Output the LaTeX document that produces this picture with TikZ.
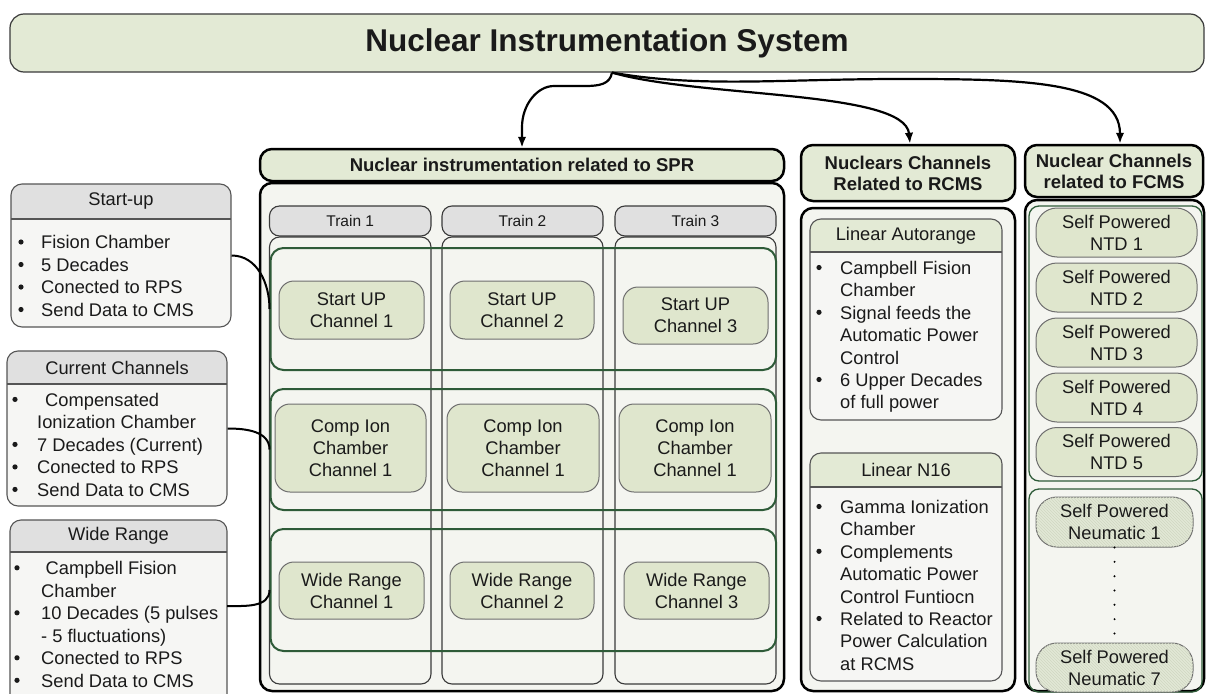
\documentclass[tikz,border=0pt]{standalone}
\usepackage{fontspec}
\setmainfont{Liberation Sans}
\usetikzlibrary{arrows.meta,patterns}
\definecolor{hgreen}{HTML}{E3EAD5}
\definecolor{chanfill}{HTML}{DFE6CD}
\definecolor{neufill}{HTML}{E2E8D6}
\definecolor{bodyc}{HTML}{F4F5F0}
\definecolor{grayh}{HTML}{E0E0E0}
\definecolor{lbody}{HTML}{F6F6F4}
\definecolor{rowgreen}{HTML}{2E5B38}
\definecolor{tframe}{HTML}{3A3A3A}
\definecolor{cframe}{HTML}{6E6E6E}
\definecolor{lframe}{HTML}{555555}
\definecolor{hatch}{HTML}{D0D7C2}
\definecolor{txt}{HTML}{1A1A1A}
\newcommand{\ct}[2][23pt]{\hspace*{#1}#2\strut}
\begin{document}
\begin{tikzpicture}[x=1pt,y=-1pt,
  every node/.style={text=txt},
  hdr/.style={draw=black, line width=2.5pt, fill=hgreen, rounded corners=12pt, inner sep=0pt, align=center, font=\bfseries\fontsize{18.5}{21}\selectfont},
  colbody/.style={draw=black, line width=2.5pt, fill=bodyc, rounded corners=12pt, inner sep=0pt},
  train/.style={draw=tframe, line width=1.1pt, fill=grayh, rounded corners=10pt, inner sep=0pt, font=\fontsize{15.5}{18}\selectfont},
  traincol/.style={draw=tframe, line width=1.1pt, rounded corners=10pt, inner sep=0pt},
  rowbox/.style={draw=rowgreen, line width=2pt, rounded corners=13pt, inner sep=0pt},
  grp/.style={draw=rowgreen, line width=1.3pt, rounded corners=10pt, inner sep=0pt},
  chan/.style={draw=cframe, line width=1pt, fill=chanfill, rounded corners=15pt, align=center, inner sep=0pt, font=\fontsize{18.3}{22}\selectfont},
  pill/.style={chan, rounded corners=21pt},
  neu/.style={pill, fill=neufill, postaction={pattern=north west lines, pattern color=hatch}},
  hbox/.style 2 args={draw=lframe, line width=1.1pt, fill=lbody, rounded corners=11pt, inner sep=0pt,
     path picture={\fill[#1, sharp corners] (path picture bounding box.north west) rectangle ([yshift=#2]path picture bounding box.north east);
       \draw[lframe, line width=1.1pt, sharp corners] ([yshift=#2]path picture bounding box.north west) -- ([yshift=#2]path picture bounding box.north east);}},
  lbl/.style={inner sep=0pt, font=\fontsize{18.3}{22}\selectfont},
  lst/.style={anchor=west, align=left, inner sep=0pt, font=\fontsize{18.3}{22.5}\selectfont},
  lst2/.style={anchor=west, align=left, inner sep=0pt, font=\fontsize{18.3}{22.4}\selectfont},
  bul/.style={fill=txt},
  conn/.style={draw=black, line width=2pt},
  arr/.style={draw=black, line width=2.2pt, -{Latex[length=11pt,width=8.5pt]}}
]
\clip (0,0) rectangle (1206,693);

% title
\node[draw=tframe, line width=1.2pt, fill=hgreen, rounded corners=14pt, inner sep=0pt,
      minimum width=1194pt, minimum height=58pt, font=\bfseries\fontsize{31.5}{36}\selectfont]
      (top) at (607,43) {Nuclear Instrumentation System};

% SPR column
\node[hdr, minimum width=524pt, minimum height=32pt] (spr-h) at (522,165) {Nuclear instrumentation related to SPR};
\node[colbody, minimum width=524pt, minimum height=508pt] (spr-b) at (522,437) {};

\node[train, minimum width=161.5pt, minimum height=30pt] (t1) at (350.25,221) {Train 1};
\node[train, minimum width=161pt, minimum height=30pt] (t2) at (522.5,221) {Train 2};
\node[train, minimum width=161pt, minimum height=30pt] (t3) at (695.5,221) {Train 3};
\node[traincol, minimum width=161.5pt, minimum height=447pt] (c1) at (350.25,460.5) {};
\node[traincol, minimum width=161pt, minimum height=447pt] (c2) at (522.5,460.5) {};
\node[traincol, minimum width=161pt, minimum height=447pt] (c3) at (695.5,460.5) {};

\node[rowbox, minimum width=505.5pt, minimum height=122pt] (row1) at (523.25,309) {};
\node[rowbox, minimum width=505.5pt, minimum height=121pt] (row2) at (523.25,449.5) {};
\node[rowbox, minimum width=505.5pt, minimum height=122pt] (row3) at (523.25,590) {};

\node[chan, minimum width=145pt, minimum height=58pt] (su1) at (351.5,310) {Start UP\\Channel 1};
\node[chan, minimum width=144pt, minimum height=58pt] (su2) at (522,310) {Start UP\\Channel 2};
\node[chan, minimum width=145pt, minimum height=57pt] (su3) at (695.5,315.5) {Start UP\\Channel 3};
\node[chan, minimum width=151pt, minimum height=88pt] (ci1) at (350.5,448) {Comp Ion\\Chamber\\Channel 1};
\node[chan, minimum width=152pt, minimum height=88pt] (ci2) at (523,448) {Comp Ion\\Chamber\\Channel 1};
\node[chan, minimum width=152pt, minimum height=88pt] (ci3) at (695,448) {Comp Ion\\Chamber\\Channel 1};
\node[chan, minimum width=145pt, minimum height=57pt] (wr1) at (351.5,590.5) {Wide Range\\Channel 1};
\node[chan, minimum width=144pt, minimum height=57pt] (wr2) at (522,590.5) {Wide Range\\Channel 2};
\node[chan, minimum width=145pt, minimum height=57pt] (wr3) at (696.5,590.5) {Wide Range\\Channel 3};

% left boxes
\node[hbox={grayh}{-35pt}, minimum width=220pt, minimum height=143pt] (su) at (121,255.5) {};
\node[lbl] (su-h) at (121,201.5) {Start-up};
\node[lst] (su-l) at (18,278) {\ct{Fision Chamber}\\\ct{5 Decades}\\\ct{Conected to RPS}\\\ct{Send Data to CMS}};
\foreach \y in {242,264.5,287,309.5} \fill[bul] (21,\y) circle (2.6);

\node[hbox={grayh}{-33pt}, minimum width=220pt, minimum height=155pt] (cc) at (117,428.5) {};
\node[lbl] (cc-h) at (117,367.5) {Current Channels};
\node[lst] (cc-l) at (12,446.9) {\ct[25pt]{\hspace*{8pt}Compensated}\\\ct[25pt]{Ionization Chamber}\\\ct[25pt]{7 Decades (Current)}\\\ct[25pt]{Conected to RPS}\\\ct[25pt]{Send Data to CMS}};
\foreach \y in {399.4,444.4,466.9,489.4} \fill[bul] (15,\y) circle (2.6);

\node[hbox={grayh}{-32pt}, minimum width=217pt, minimum height=200pt] (wr) at (118.5,620) {};
\node[lbl] (wr-h) at (118.5,536) {Wide Range};
\node[lst] (wr-l) at (14,626.5) {\ct[27pt]{\hspace*{4.5pt}Campbell Fision}\\\ct[27pt]{Chamber}\\\ct[27pt]{10 Decades (5 pulses}\\\ct[27pt]{- 5 fluctuations)}\\\ct[27pt]{Conected to RPS}\\\ct[27pt]{Send Data to CMS}};
\foreach \y in {567.8,612.8,657.8,680.3} \fill[bul] (17,\y) circle (2.6);
\coordinate (wrc) at (227,606);

\draw[conn] (su.east) to[out=0,in=90] (row1.west);
\draw[conn] (cc.east) to[out=0,in=90] (row2.west);
\draw[conn] (wrc) to[out=0,in=-90] (row3.west);

% RCMS column
\node[hdr, minimum width=214pt, minimum height=56pt] (rc-h) at (908,173) {Nuclears Channels\\Related to RCMS};
\node[colbody, minimum width=214pt, minimum height=483pt] (rc-b) at (908,449.5) {};
\node[hbox={hgreen}{-33pt}, minimum width=192pt, minimum height=201pt] (la) at (906,319.5) {};
\node[lbl] (la-h) at (906,235.5) {Linear Autorange};
\node[lst2] (la-l) at (816,337.2) {\ct[24pt]{Campbell Fision}\\\ct[24pt]{Chamber}\\\ct[24pt]{Signal feeds the}\\\ct[24pt]{Automatic Power}\\\ct[24pt]{Control}\\\ct[24pt]{6 Upper Decades}\\\ct[24pt]{of full power}};
\foreach \y in {267.5,312.3,379.5} \fill[bul] (819,\y) circle (2.6);
\node[hbox={hgreen}{-34pt}, minimum width=192pt, minimum height=228pt] (n16) at (906,567) {};
\node[lbl] (n16-h) at (906,470) {Linear N16};
\node[lst2] (n16-l) at (816,587.4) {\ct[24pt]{Gamma Ionization}\\\ct[24pt]{Chamber}\\\ct[24pt]{Complements}\\\ct[24pt]{Automatic Power}\\\ct[24pt]{Control Funtiocn}\\\ct[24pt]{Related to Reactor}\\\ct[24pt]{Power Calculation}\\\ct[24pt]{at RCMS}};
\foreach \y in {506.5,551.3,618.5} \fill[bul] (819,\y) circle (2.6);

% FCMS column
\node[hdr, minimum width=178pt, minimum height=52pt] (fc-h) at (1114,171) {Nuclear Channels\\related to FCMS};
\node[colbody, minimum width=179pt, minimum height=491pt] (fc-b) at (1114.5,445.5) {};
\node[grp, minimum width=173pt, minimum height=275pt] (g1) at (1115.5,343.5) {};
\node[grp, minimum width=173pt, minimum height=203pt] (g2) at (1115.5,590.5) {};
\node[pill, minimum width=161pt, minimum height=49pt] (ntd1) at (1116.5,232.5) {Self Powered\\NTD 1};
\node[pill, minimum width=161pt, minimum height=49pt] (ntd2) at (1116.5,287.5) {Self Powered\\NTD 2};
\node[pill, minimum width=161pt, minimum height=49pt] (ntd3) at (1116.5,342.5) {Self Powered\\NTD 3};
\node[pill, minimum width=161pt, minimum height=49pt] (ntd4) at (1116.5,397.5) {Self Powered\\NTD 4};
\node[pill, minimum width=161pt, minimum height=49pt] (ntd5) at (1116.5,452) {Self Powered\\NTD 5};
\node[neu, minimum width=157pt, minimum height=50pt] (nm1) at (1114.5,522) {Self Powered\\Neumatic 1};
\node[neu, minimum width=157pt, minimum height=49pt] (nm7) at (1114.5,667.5) {Self Powered\\Neumatic 7};
\draw[line width=2.2pt, line cap=round, dash pattern=on 0pt off 14.33pt] (nm1.south) -- (nm7.north);

% arrows from title
\draw[arr] ([xshift=5pt]top.south) .. controls (610,84) and (600,86) .. (585,86) -- (554,86)
   .. controls (537,86) and (522,105) .. (522,127) -- (spr-h.north);
\draw[arr] ([xshift=5pt]top.south) .. controls (700,98) and (905,90) .. ([xshift=2pt]rc-h.north);
\draw[arr] ([xshift=5pt]top.south) .. controls (700,88) and (780,79) .. (900,79)
   .. controls (1020,79) and (1120,80) .. ([xshift=6pt]fc-h.north);
\end{tikzpicture}
\end{document}
